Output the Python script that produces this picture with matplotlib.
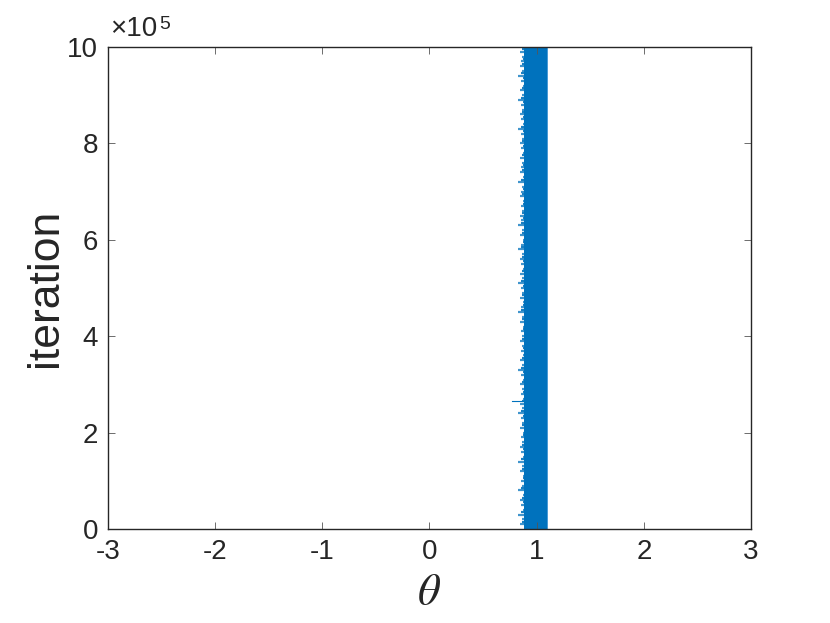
import numpy as np
import matplotlib
matplotlib.use("Agg")
import matplotlib.pyplot as plt

iter_levels = np.arange(0, 1_000_001, 10_000)
left_extreme = [
    0.88, 0.84, 0.86, 0.83, 0.87, 0.85, 0.84, 0.87, 0.83, 0.86,
    0.85, 0.87, 0.84, 0.86, 0.83, 0.87, 0.85, 0.84, 0.86, 0.85,
    0.87, 0.84, 0.86, 0.85, 0.83, 0.86, 0.84, 0.87, 0.85, 0.86,
    0.84, 0.87, 0.85, 0.83, 0.86, 0.84, 0.87, 0.85, 0.86, 0.84,
    0.86, 0.85, 0.87, 0.84, 0.86, 0.83, 0.85, 0.87, 0.84, 0.86,
    0.85, 0.83, 0.86, 0.84, 0.87, 0.85, 0.84, 0.86, 0.83, 0.85,
    0.87, 0.84, 0.86, 0.83, 0.85, 0.84, 0.86, 0.85, 0.87, 0.84,
    0.85, 0.86, 0.83, 0.87, 0.84, 0.85, 0.86, 0.84, 0.87, 0.85,
    0.84, 0.86, 0.85, 0.83, 0.87, 0.85, 0.84, 0.86, 0.85, 0.83,
    0.86, 0.84, 0.87, 0.85, 0.83, 0.86, 0.84, 0.85, 0.86, 0.84, 0.86,
]
core_left = 0.885
core_right = 1.095
right_extreme = 1.103
outlier_iter = 265_000
outlier_theta = 0.77

xticks = [-3, -2, -1, 0, 1, 2, 3]
yticks = [0, 200_000, 400_000, 600_000, 800_000, 1_000_000]
ytick_labels = ["0", "2", "4", "6", "8", "10"]

blue = "#0072BD"
dark = "#262626"

plt.rcParams["font.family"] = ["Liberation Sans", "DejaVu Sans"]
plt.rcParams["mathtext.fontset"] = "stix"

fig = plt.figure(figsize=(8.3, 6.23), dpi=100, facecolor="white")
ax = fig.add_axes([0.1301, 0.1509, 0.7747, 0.7737])

# core of the trace, then thin spikes on the low side
ax.fill_betweenx(iter_levels, core_left, core_right, color=blue, linewidth=0)
ax.fill_betweenx(iter_levels, core_right, right_extreme, color="#4c9bd5", linewidth=0)
ax.hlines(iter_levels, left_extreme, core_left, color=blue, linewidth=1.6, alpha=0.75)
ax.hlines(iter_levels + 5000, [v + 0.02 for v in left_extreme], core_left,
          color=blue, linewidth=1.6, alpha=0.9)
ax.plot([outlier_theta, core_left], [outlier_iter, outlier_iter], color=blue, linewidth=0.8)

ax.set_xlim(-3, 3)
ax.set_ylim(0, 1_000_000)
ax.set_xticks(xticks)
ax.set_xticklabels([str(t) for t in xticks])
ax.set_yticks(yticks)
ax.set_yticklabels(ytick_labels)
ax.tick_params(direction="in", length=5, width=0.6, color="#555555",
               labelsize=20, labelcolor=dark, top=True, right=True, pad=7)
for s in ax.spines.values():
    s.set_color(dark)
    s.set_linewidth(1.0)

ax.set_xlabel(r"$\theta$", fontsize=32, color=dark, labelpad=6)
ax.set_ylabel("iteration", fontsize=32, color=dark, labelpad=1)

ax.text(0.003, 1.01, "\u00d710", transform=ax.transAxes, fontsize=20,
        color=dark, ha="left", va="bottom")
ax.text(0.079, 1.03, "5", transform=ax.transAxes, fontsize=14,
        color=dark, ha="left", va="bottom")

fig.savefig("out.png", dpi=100, facecolor="white")
